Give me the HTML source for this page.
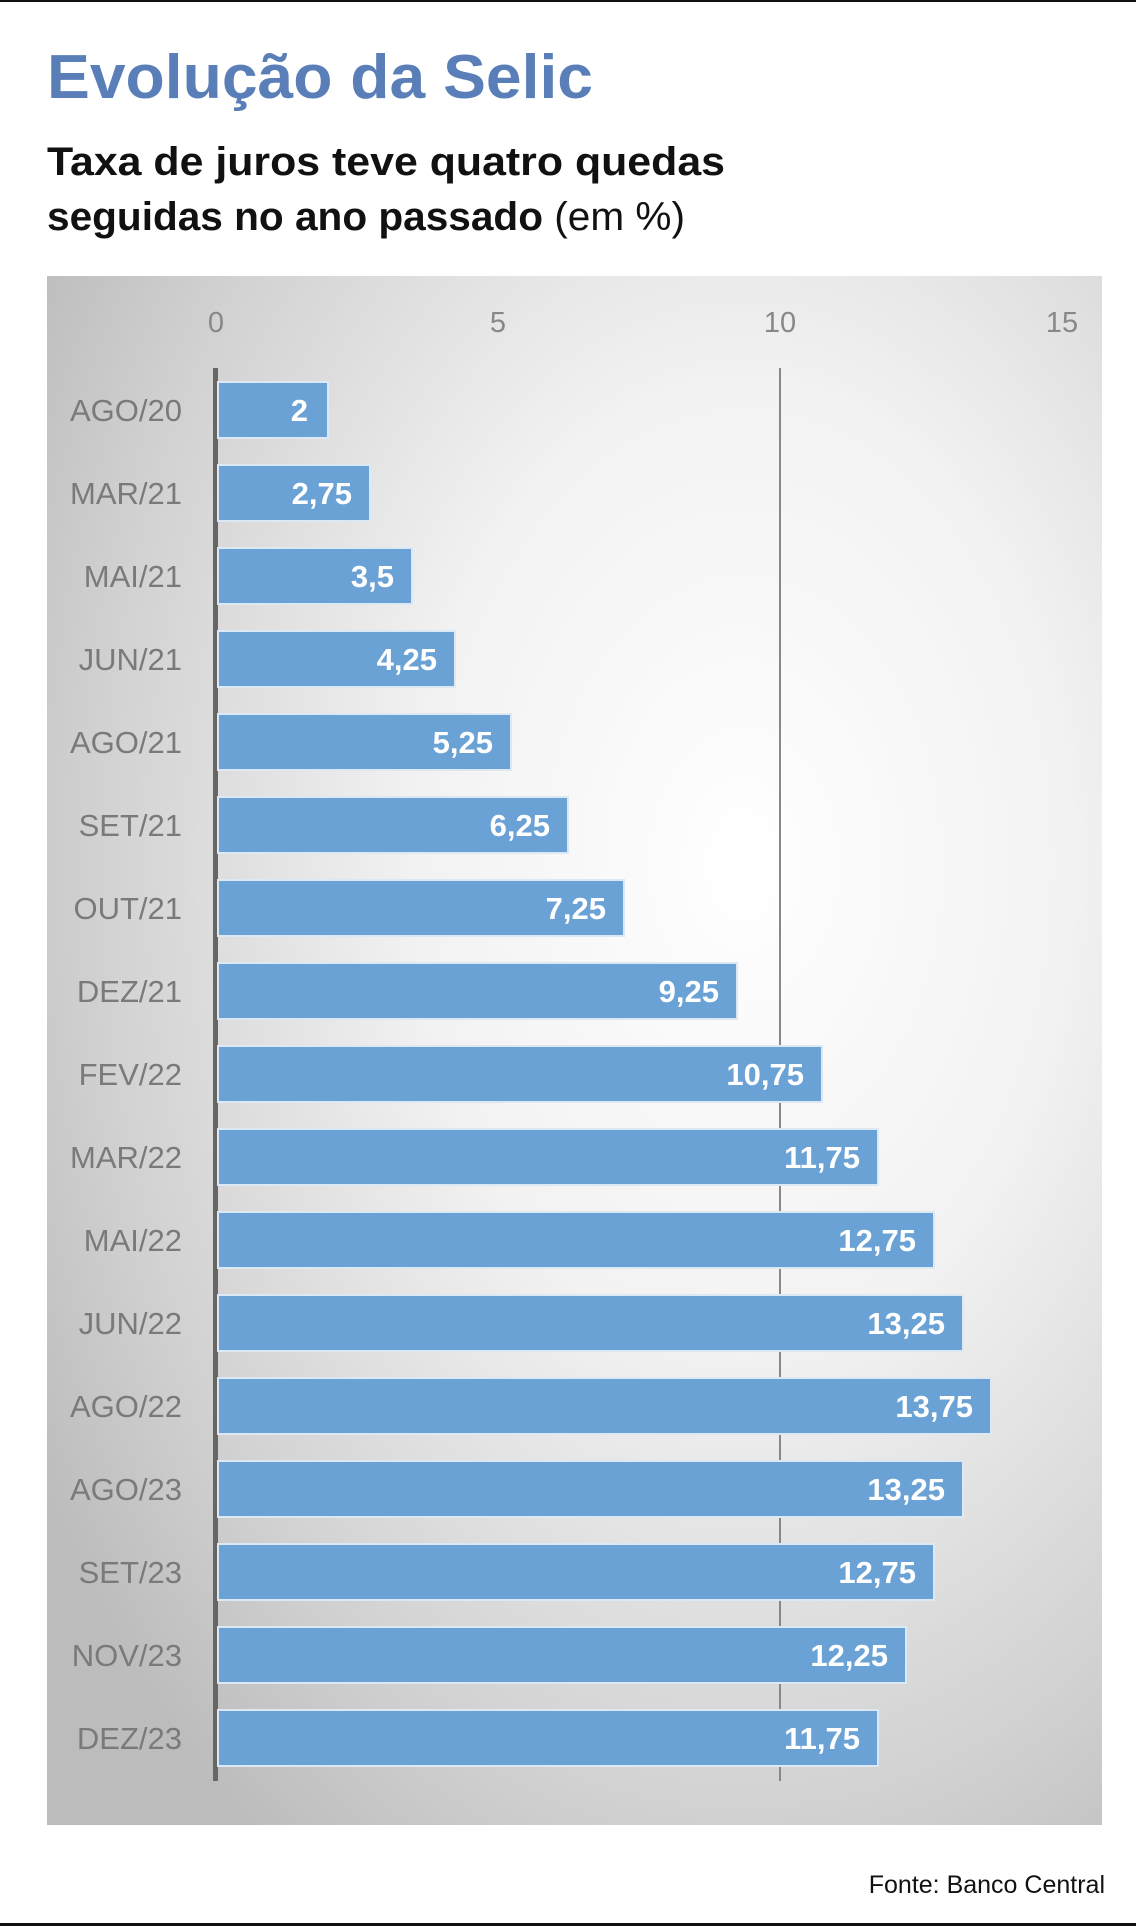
<!DOCTYPE html>
<html><head><meta charset="utf-8">
<style>
html,body{margin:0;padding:0;background:#fff;}
svg{display:block;}
</style></head>
<body>
<svg width="1136" height="1926" viewBox="0 0 1136 1926" xmlns="http://www.w3.org/2000/svg" font-family="Liberation Sans, sans-serif">
<defs>
<radialGradient id="bg" cx="0.66" cy="0.38" r="0.78" fx="0.66" fy="0.38">
<stop offset="0" stop-color="#ffffff"/>
<stop offset="0.4" stop-color="#f2f2f2"/>
<stop offset="0.8" stop-color="#d0d0d0"/>
<stop offset="1" stop-color="#bcbcbc"/>
</radialGradient>
</defs>
<rect x="0" y="0" width="1136" height="2" fill="#111"/>
<rect x="0" y="1923" width="1136" height="3" fill="#111"/>
<text x="47" y="98" font-size="62" font-weight="bold" fill="#5a7fb8" textLength="546" lengthAdjust="spacingAndGlyphs">Evolução da Selic</text>
<text x="47" y="175" font-size="40" font-weight="bold" fill="#111" textLength="678" lengthAdjust="spacingAndGlyphs">Taxa de juros teve quatro quedas</text>
<text x="47" y="230" font-size="40" fill="#111" textLength="638" lengthAdjust="spacingAndGlyphs"><tspan font-weight="bold">seguidas no ano passado</tspan> (em %)</text>
<rect x="47" y="276" width="1055" height="1549" fill="url(#bg)"/>
<g font-size="29" fill="#888" text-anchor="middle">
<text x="216" y="332">0</text><text x="498" y="332">5</text><text x="780" y="332">10</text><text x="1062" y="332">15</text>
</g>
<line x1="780" y1="368" x2="780" y2="1781" stroke="#888" stroke-width="2"/>
<rect x="213" y="368" width="5" height="1413" fill="#666"/>
<g font-size="31" fill="#7a7a7a" text-anchor="end">
<text x="182" y="421">AGO/20</text>
<text x="182" y="504">MAR/21</text>
<text x="182" y="587">MAI/21</text>
<text x="182" y="670">JUN/21</text>
<text x="182" y="753">AGO/21</text>
<text x="182" y="836">SET/21</text>
<text x="182" y="919">OUT/21</text>
<text x="182" y="1002">DEZ/21</text>
<text x="182" y="1085">FEV/22</text>
<text x="182" y="1168">MAR/22</text>
<text x="182" y="1251">MAI/22</text>
<text x="182" y="1334">JUN/22</text>
<text x="182" y="1417">AGO/22</text>
<text x="182" y="1500">AGO/23</text>
<text x="182" y="1583">SET/23</text>
<text x="182" y="1666">NOV/23</text>
<text x="182" y="1749">DEZ/23</text>
</g>
<g fill="#6aa2d6" stroke="#dce9f5" stroke-width="2">
<rect x="218" y="382" width="110" height="56"/>
<rect x="218" y="465" width="152" height="56"/>
<rect x="218" y="548" width="194" height="56"/>
<rect x="218" y="631" width="237" height="56"/>
<rect x="218" y="714" width="293" height="56"/>
<rect x="218" y="797" width="350" height="56"/>
<rect x="218" y="880" width="406" height="56"/>
<rect x="218" y="963" width="519" height="56"/>
<rect x="218" y="1046" width="604" height="56"/>
<rect x="218" y="1129" width="660" height="56"/>
<rect x="218" y="1212" width="716" height="56"/>
<rect x="218" y="1295" width="745" height="56"/>
<rect x="218" y="1378" width="773" height="56"/>
<rect x="218" y="1461" width="745" height="56"/>
<rect x="218" y="1544" width="716" height="56"/>
<rect x="218" y="1627" width="688" height="56"/>
<rect x="218" y="1710" width="660" height="56"/>
</g>
<g font-size="31" font-weight="bold" fill="#fff" text-anchor="end">
<text x="308" y="421">2</text>
<text x="352" y="504">2,75</text>
<text x="394" y="587">3,5</text>
<text x="437" y="670">4,25</text>
<text x="493" y="753">5,25</text>
<text x="550" y="836">6,25</text>
<text x="606" y="919">7,25</text>
<text x="719" y="1002">9,25</text>
<text x="804" y="1085">10,75</text>
<text x="860" y="1168">11,75</text>
<text x="916" y="1251">12,75</text>
<text x="945" y="1334">13,25</text>
<text x="973" y="1417">13,75</text>
<text x="945" y="1500">13,25</text>
<text x="916" y="1583">12,75</text>
<text x="888" y="1666">12,25</text>
<text x="860" y="1749">11,75</text>
</g>
<text x="1105" y="1893" font-size="25" fill="#111" text-anchor="end">Fonte: Banco Central</text>
</svg>
</body></html>
